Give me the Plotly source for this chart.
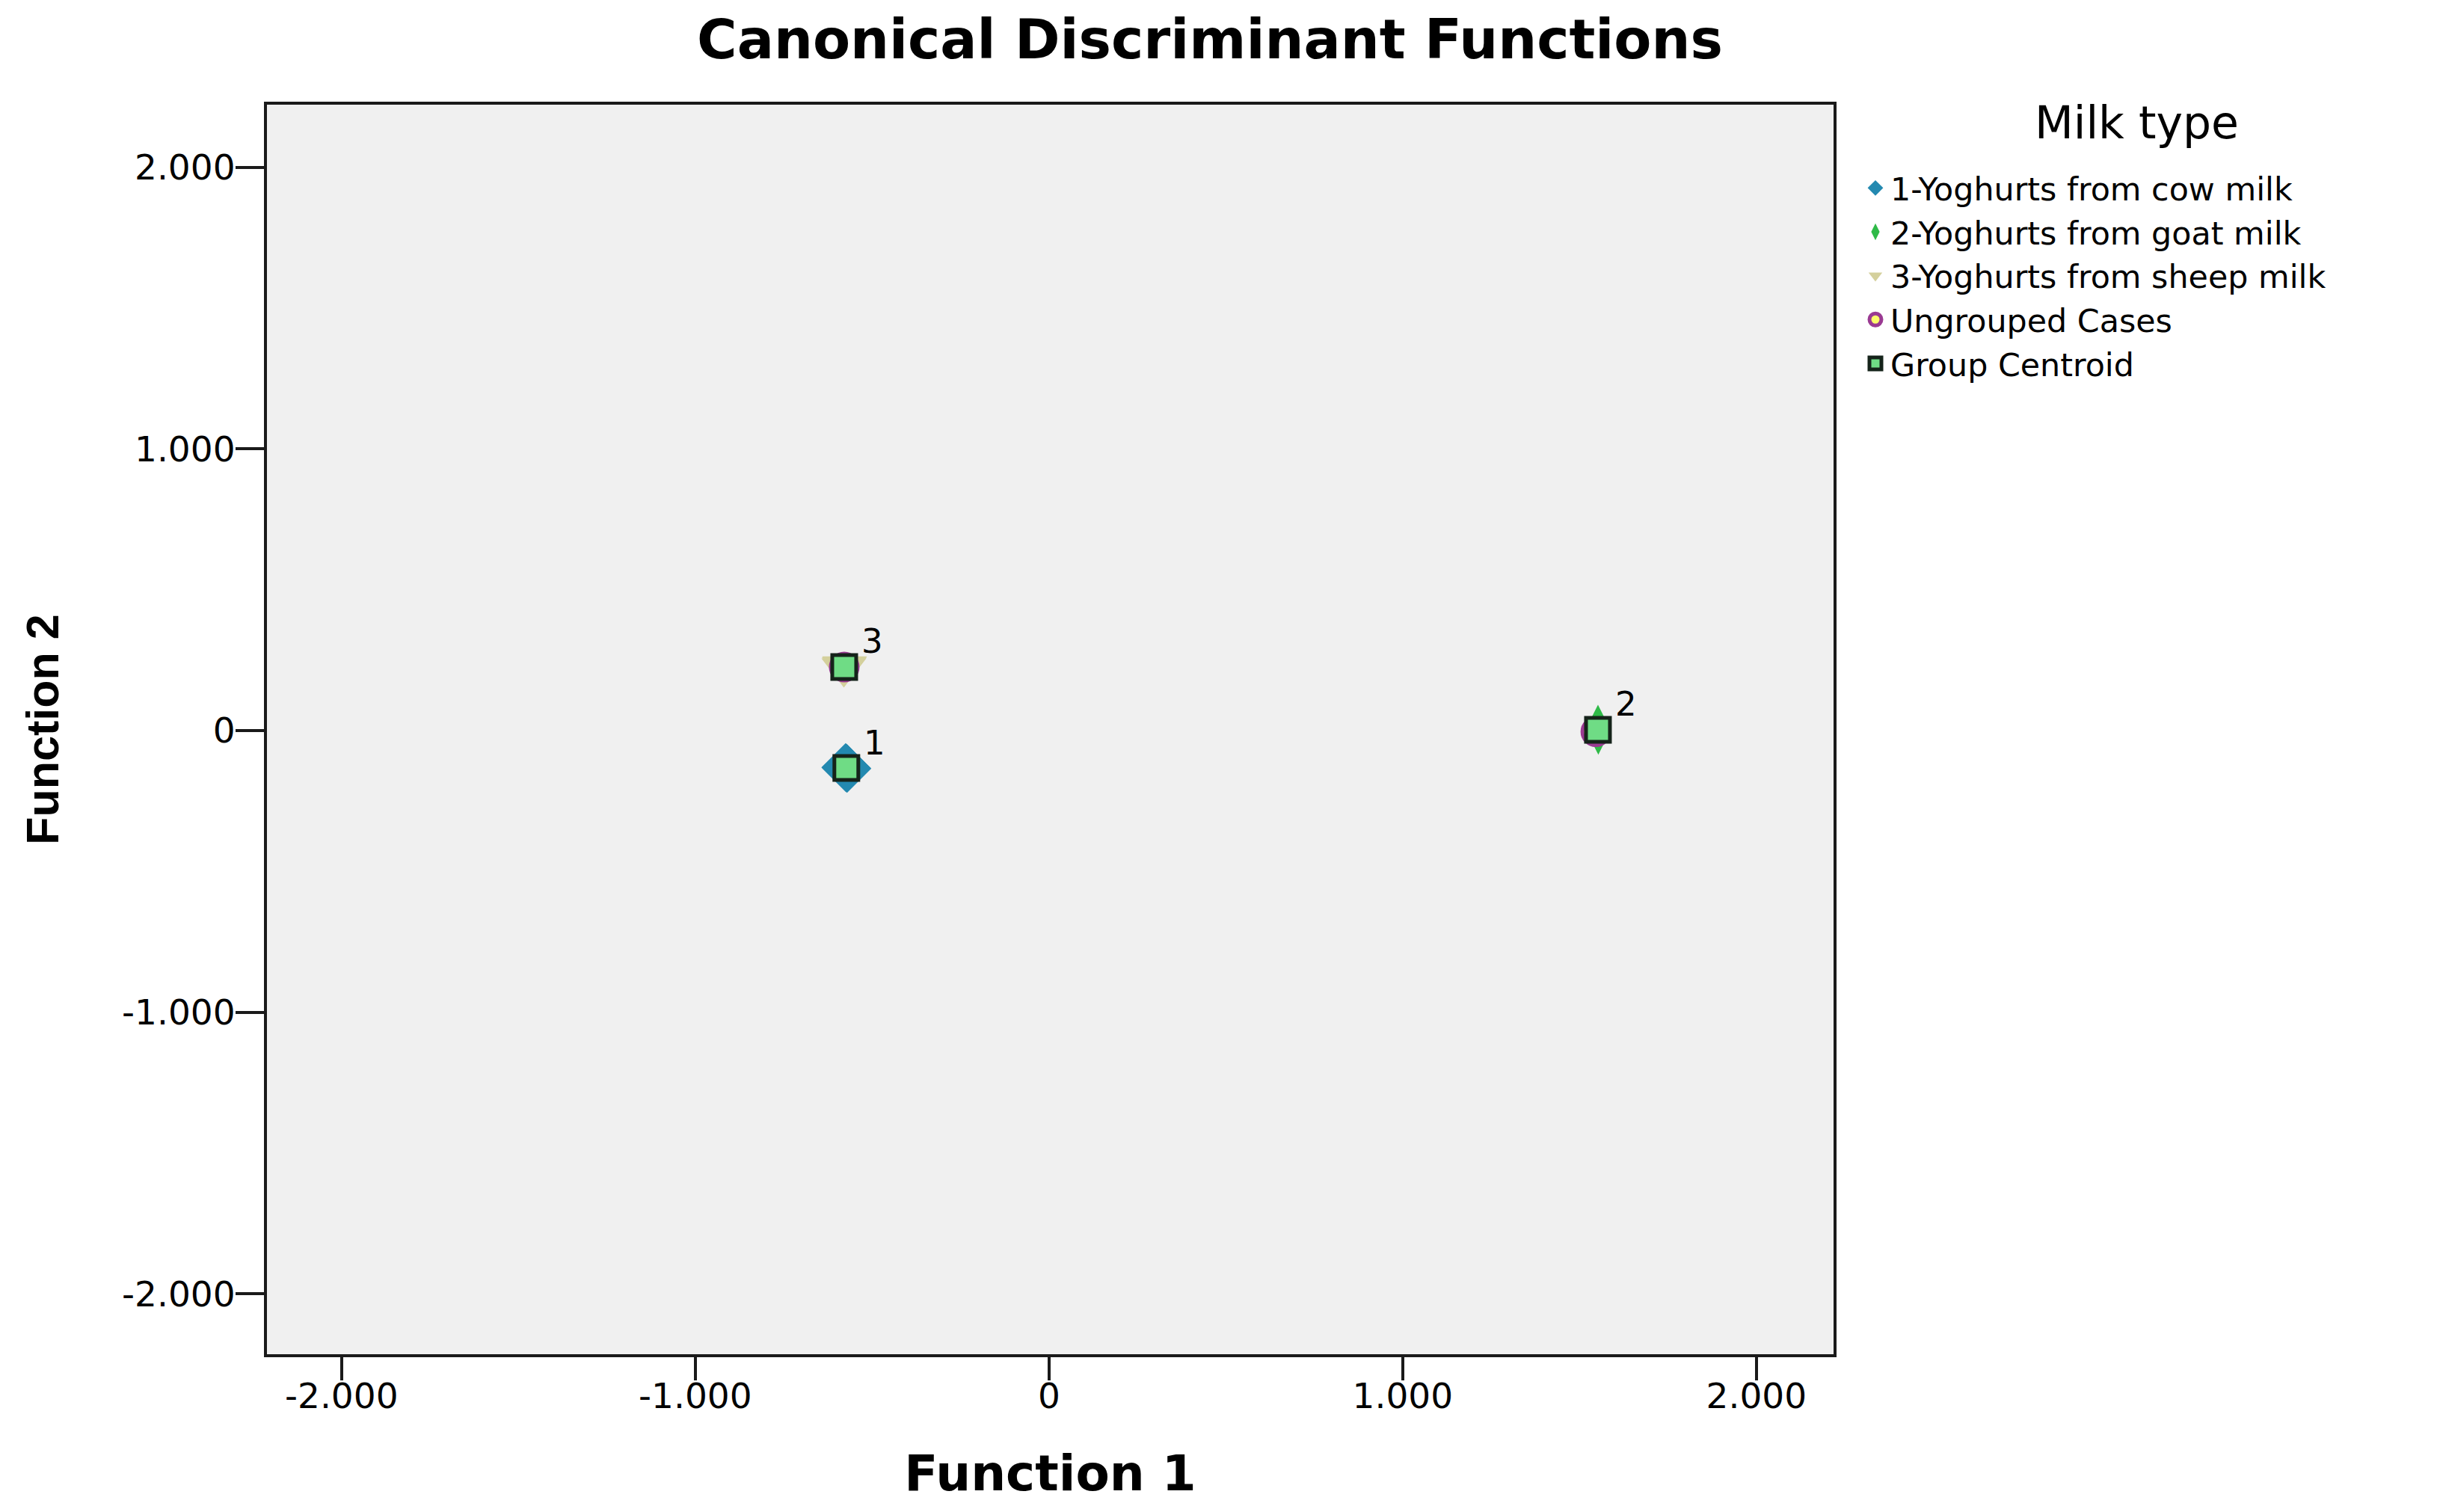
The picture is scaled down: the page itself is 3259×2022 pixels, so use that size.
import plotly.graph_objects as go

# ---- data ----
group_names = ["1-Yoghurts from cow milk", "2-Yoghurts from goat milk", "3-Yoghurts from sheep milk"]
cow_f1 = [-0.575, -0.571, -0.573]
cow_f2 = [-0.131, -0.135, -0.133]
goat_f1 = [1.552, 1.553, 1.551]
goat_f2 = [0.010, -0.004, 0.003]
sheep_f1 = [-0.580, -0.578, -0.579]
sheep_f2 = [0.222, 0.229, 0.226]
ungrouped_f1 = [-0.579, 1.546]
ungrouped_f2 = [0.226, -0.004]
centroid_labels = ["1", "2", "3"]
centroid_f1 = [-0.573, 1.552, -0.579]
centroid_f2 = [-0.133, 0.003, 0.226]
tick_vals = [-2, -1, 0, 1, 2]
tick_text = ["-2.000", "-1.000", "0", "1.000", "2.000"]

# page has an 8px body margin, so the figure is laid out 8px smaller
W, H = 3251, 2014
L, R, T, B = 349, 2444, 132, 1803

fig = go.Figure()
fig.add_trace(go.Scatter(x=cow_f1, y=cow_f2, mode="markers", name=group_names[0],
                         marker=dict(symbol="diamond", size=50, color="#2389b0", line=dict(width=0))))
fig.add_trace(go.Scatter(x=goat_f1, y=goat_f2, mode="markers", name=group_names[1],
                         marker=dict(symbol="diamond-tall", size=44, color="#2fba48", line=dict(width=0))))
fig.add_trace(go.Scatter(x=sheep_f1, y=sheep_f2, mode="markers", name=group_names[2],
                         marker=dict(symbol="triangle-down", size=52, color="#d4d09c", line=dict(width=0))))
fig.add_trace(go.Scatter(x=ungrouped_f1, y=ungrouped_f2, mode="markers", name="Ungrouped Cases",
                         marker=dict(symbol="circle", size=36, color="#fcfc6a",
                                     line=dict(width=5, color="#9a3a92"))))
fig.add_trace(go.Scatter(x=centroid_f1, y=centroid_f2, mode="markers", name="Group Centroid",
                         marker=dict(symbol="square", size=32, color="#6fdc85",
                                     line=dict(width=5, color="#15231a"))))

for lab, cx, cy in zip(centroid_labels, centroid_f1, centroid_f2):
    fig.add_annotation(x=cx, y=cy, text=lab, showarrow=False, xshift=38, yshift=34,
                       font=dict(family="DejaVu Sans", size=45, color="black"))

# legend title
fig.add_annotation(x=(2849 - L) / (R - L), y=(B - 156) / (B - T), xref="paper", yref="paper",
                   text="Milk type", showarrow=False, xanchor="center", yanchor="middle",
                   font=dict(family="DejaVu Sans", size=60, color="black"))

axis_common = dict(showgrid=False, zeroline=False, showline=True, mirror=True,
                   linecolor="#1a1a1a", linewidth=4, ticks="outside", tickwidth=4,
                   tickcolor="#1a1a1a", tickvals=tick_vals, ticktext=tick_text,
                   tickfont=dict(family="DejaVu Sans", size=47, color="black"))

fig.update_layout(
    width=W, height=H,
    paper_bgcolor="white", plot_bgcolor="#f0f0f0",
    margin=dict(l=L, r=W - R, t=T, b=H - B, autoexpand=False),
    title=dict(text="Canonical Discriminant Functions", x=1610 / W, xref="container",
               xanchor="center", y=1 - 44 / H, yref="container", yanchor="middle",
               font=dict(family="DejaVu Sans", size=73, color="black", weight="bold")),
    xaxis=dict(range=[-2.211, 2.218], ticklen=31, ticklabelstandoff=-19,
               title=dict(text="Function 1", standoff=54,
                          font=dict(family="DejaVu Sans", size=66, color="black", weight="bold")),
               **axis_common),
    yaxis=dict(range=[-2.215, 2.223], ticklen=38, ticklabelstandoff=-9,
               title=dict(text="Function 2", standoff=66,
                          font=dict(family="Liberation Sans", size=61, color="black", weight="bold")),
               **axis_common),
    legend=dict(x=(2480 - L) / (R - L), xanchor="left", y=(B - 209) / (B - T), yanchor="top",
                bgcolor="rgba(0,0,0,0)", borderwidth=0,
                font=dict(family="DejaVu Sans", size=42.8, color="black")),
    showlegend=True,
)

fig.write_html("out.html")
